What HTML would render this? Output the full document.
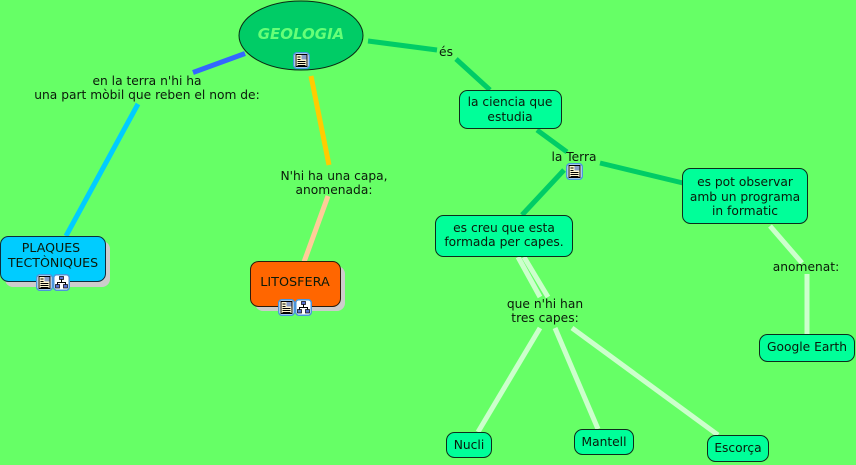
<!DOCTYPE html>
<html><head><meta charset="utf-8"><style>
html,body{margin:0;padding:0;background:#66ff66;width:856px;height:465px;overflow:hidden}
svg{display:block}
text{font-family:"DejaVu Sans",Verdana,sans-serif;font-size:12.25px;fill:#0a1a0a;text-anchor:middle}
.n{stroke:#0c2c1c;stroke-width:1;fill:#00ff99}
.c{fill:none;stroke-width:5}
.g{stroke:#00cc66}
.w{stroke:#ccffcc}
</style></head><body>
<svg width="856" height="465" viewBox="0 0 856 465" xmlns="http://www.w3.org/2000/svg">
<defs>
<g id="doc">
<rect x=".75" y=".75" width="15.500" height="15.500" rx="3" fill="#fff" stroke="#4a96dc" stroke-width="1.500"/>
<rect x="3" y="2.500" width="11" height="12" fill="#fff8d0" stroke="#000"/>
<rect x="8.500" y="3" width="5" height="4.500" fill="#8a9cc8"/>
<path d="M4.500 5h3M4.500 7.500h3M4.500 9.500h8M4.500 11.500h8M4.500 13.500h8" stroke="#000" stroke-width=".9"/>
</g>
<g id="tree">
<rect x=".75" y=".75" width="15.500" height="15.500" rx="3" fill="#fff" stroke="#4a96dc" stroke-width="1.500"/>
<path d="M8.500 5.500V8.500M4.500 11V8.500H12.500V11" fill="none" stroke="#000"/>
<rect x="6.500" y="2.500" width="4" height="3" fill="#5a70d0" stroke="#000" stroke-width=".7"/>
<rect x="2.500" y="10.500" width="4" height="3.500" fill="#5a70d0" stroke="#000" stroke-width=".7"/>
<rect x="10.500" y="10.500" width="4" height="3.500" fill="#5a70d0" stroke="#000" stroke-width=".7"/>
</g>
</defs>
<rect width="856" height="465" fill="#66ff66"/>

<path class="c" d="M245 53.500L193 72.500" stroke="#3366ff"/>
<path class="c" d="M138 104L66 236" stroke="#00ccff"/>
<path class="c" d="M311 76L329 165" stroke="#ffcc00"/>
<path class="c" d="M328 196L304 262" stroke="#ffcc99"/>
<path class="c g" d="M368 41L437 50"/>
<path class="c g" d="M456 59L490 90"/>
<path class="c g" d="M537 130L567 152"/>
<path class="c g" d="M564 170L522 215"/>
<path class="c g" d="M600 163L683 183"/>
<path class="c w" d="M518 257L540 297"/>
<path class="c w" d="M524 257L548 297"/>
<path class="c w" d="M540 328L478 432"/>
<path class="c w" d="M555 328L598 429"/>
<path class="c w" d="M572 328L718 435"/>
<path class="c w" d="M770 226L802 263"/>
<path class="c w" d="M807 274V334"/>

<ellipse cx="301" cy="35.500" rx="62" ry="34.500" fill="#00cc66" stroke="#0a2a14" stroke-width="1"/>
<text x="301" y="39" style="font-size:15px;font-weight:bold;font-style:italic;fill:#66ff77">GEOLOGIA</text>

<rect x="5" y="241" width="105" height="46" rx="8" fill="#cccccc"/>
<rect x="0.500" y="236.500" width="105" height="45" rx="8" fill="#00ccff" stroke="#0c2c3c"/>
<rect x="255" y="266" width="90" height="45" rx="8" fill="#cccccc"/>
<rect x="250.500" y="261.500" width="90" height="45" rx="8" fill="#ff6600" stroke="#2c1c0c"/>

<rect class="n" x="459.500" y="90.500" width="102" height="38" rx="8"/>
<rect class="n" x="682.500" y="168.500" width="125" height="55" rx="8"/>
<rect class="n" x="435.500" y="215.500" width="137" height="41" rx="8"/>
<rect class="n" x="759.500" y="334.500" width="95" height="27" rx="8"/>
<rect class="n" x="446.500" y="432.500" width="45" height="25" rx="8"/>
<rect class="n" x="574.500" y="429.500" width="59" height="25" rx="8"/>
<rect class="n" x="707.500" y="435.500" width="61" height="26" rx="8"/>

<text x="147" y="85">en la terra n'hi ha</text>
<text x="147" y="99">una part mòbil que reben el nom de:</text>
<text x="334" y="180">N'hi ha una capa,</text>
<text x="334" y="194">anomenada:</text>
<text x="446" y="56">és</text>
<text x="574" y="161">la Terra</text>
<text x="510" y="106">la ciencia que</text>
<text x="510" y="121">estudia</text>
<text x="745" y="186">es pot observar</text>
<text x="745" y="201">amb un programa</text>
<text x="745" y="215">in formatic</text>
<text x="504" y="232">es creu que esta</text>
<text x="504" y="246">formada per capes.</text>
<text x="545" y="308">que n'hi han</text>
<text x="545" y="322">tres capes:</text>
<text x="806" y="271">anomenat:</text>
<text x="807" y="351">Google Earth</text>
<text x="469" y="449">Nucli</text>
<text x="604" y="446">Mantell</text>
<text x="738" y="452">Escorça</text>
<text x="51" y="252" style="font-size:12.6px">PLAQUES</text>
<text x="53" y="267" style="font-size:12.6px">TECTÒNIQUES</text>
<text x="295" y="286" style="font-size:12.8px">LITOSFERA</text>

<use href="#doc" x="293" y="52"/>
<use href="#doc" x="36" y="274"/>
<use href="#tree" x="53" y="274"/>
<use href="#doc" x="278" y="299"/>
<use href="#tree" x="295" y="299"/>
<use href="#doc" x="566" y="163"/>
</svg>
</body></html>
